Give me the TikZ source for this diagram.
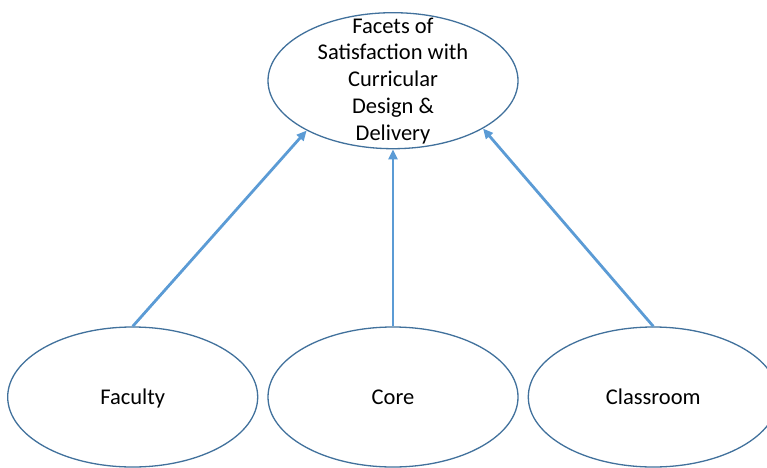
\documentclass[tikz,border=0pt]{standalone}
\usepackage{fontspec}
\setmainfont{Carlito}
\usepackage{tikz}
\usetikzlibrary{arrows.meta, positioning, shapes.geometric}

\definecolor{ovalline}{HTML}{41719C}
\definecolor{arrowblue}{HTML}{5B9BD5}

\begin{document}
\begin{tikzpicture}[
			x=1pt, y=1pt,
			% stile per gli ovali
			oval/.style={draw=ovalline, fill=white, ellipse, minimum width=250pt, minimum height=140pt, inner sep=0pt, line width=1.3pt, text height=1.45em, text depth=0.04em, font=\fontsize{22.5}{26.7}\selectfont},
			% stile per le frecce
			arrow/.style={-{Triangle[length=10pt, width=9pt]}, draw=arrowblue, line width=2.8pt}
			]
			\clip (0,0) rectangle (767,467);
			
			% --- OVALI IN BASSO ---
			\node [oval] (core) at (393,70) {Core};
			\node [oval, left=9pt of core] (faculty) {Faculty};
			\node [oval, right=9pt of core] (classroom) {Classroom};
			
			% --- OVALE IN ALTO ---
			\node [oval, minimum height=136pt, above=177pt of core] (facets) {};
			\node [align=center, font=\fontsize{22.5}{26.7}\selectfont] (facetstext) at (facets) {Facets of\\Satisfaction with\\Curricular\\Design \&\\Delivery};
			
			\draw [arrow] (faculty.north) -- (facets.210);
			\draw [arrow] (core.north) -- (facets.south);
			\draw [arrow] (classroom.north) -- (facets.332);
			
		\end{tikzpicture}
\end{document}
